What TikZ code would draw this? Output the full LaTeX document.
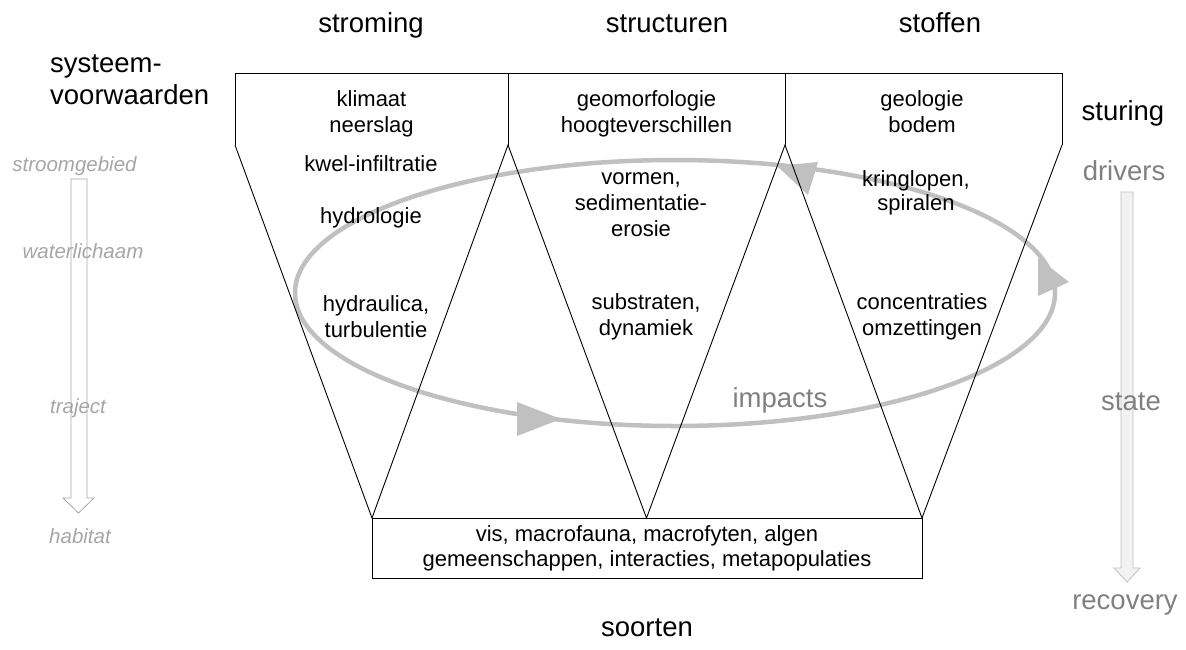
\documentclass[tikz,border=0pt]{standalone}
\usepackage{fontspec}
\setmainfont{Liberation Sans}
\definecolor{scalegrey}{HTML}{A6A6A6}
\definecolor{dpsirgrey}{HTML}{808080}
\definecolor{loopgrey}{HTML}{C0C0C0}
\definecolor{shaftfill}{HTML}{F2F2F2}
\definecolor{shaftline}{HTML}{BFBFBF}
\begin{document}
\begin{tikzpicture}[x=1pt,y=-1pt,
  heading/.style={font=\fontsize{27.5}{31.6}\selectfont, anchor=base, inner sep=0pt},
  item/.style={font=\fontsize{22}{26}\selectfont, anchor=base, inner sep=0pt},
  scalelabel/.style={font=\fontsize{20.5}{24}\selectfont\itshape, text=scalegrey, anchor=base, inner sep=0pt},
  dpsir/.style={font=\fontsize{27.5}{31.6}\selectfont, text=dpsirgrey, anchor=base, inner sep=0pt},
  frame/.style={draw=black, line width=0.9pt, line join=miter},
  loop/.style={draw=loopgrey, line width=4.5pt},
  loophead/.style={fill=loopgrey}
]
\useasboundingbox (0,0) rectangle (1186,649);

% impact loop with its arrowheads
\draw[loop] (675,293) ellipse [x radius=380, y radius=133];
\fill[loophead] (777,166) -- (818,162) -- (808,195) -- cycle;
\fill[loophead] (1038,258) -- (1038,296) -- (1069,282) -- cycle;
\fill[loophead] (517,402) -- (517,436) -- (561,419) -- cycle;

% scale arrows at both sides
\draw[scalegrey, line width=0.8pt] (71,179) -- (87,179) -- (87,498) -- (94,498)
  -- (78.5,513) -- (63,498) -- (71,498) -- cycle;
\draw[shaftline, fill=shaftfill, line width=0.8pt] (1121,192) -- (1133,192) -- (1133,568)
  -- (1140,568) -- (1127,582) -- (1114,568) -- (1121,568) -- cycle;

% funnel frame: three boxes narrowing into the species box
\coordinate (T1) at (235,73);
\coordinate (T2) at (508,73);
\coordinate (T3) at (785,73);
\coordinate (T4) at (1062,73);
\coordinate (S1) at (235,145);
\coordinate (S2) at (508,145);
\coordinate (S3) at (785,145);
\coordinate (S4) at (1062,145);
\coordinate (V1) at (372,518);
\coordinate (V2) at (646.5,518);
\coordinate (V3) at (922,518);
\coordinate (B3) at (922,578);
\draw[frame] (T1) -- (T4);
\draw[frame] (T1) -- (S1);
\draw[frame] (T2) -- (S2);
\draw[frame] (T3) -- (S3);
\draw[frame] (T4) -- (S4);
\draw[frame] (S1) -- (V1) -- (S2) -- (V2) -- (S3) -- (V3) -- (S4);
\draw[frame] (V1) rectangle (B3);

% column headings
\node[heading] (stroming) at (371,32) {stroming};
\node[heading] (structuren) at (667,32) {structuren};
\node[heading] (stoffen) at (940,32) {stoffen};
\node[heading, anchor=base west] (systeem) at (50,72) {systeem-};
\node[heading, anchor=base west] (voorwaarden) at (50,104) {voorwaarden};
\node[heading] (sturing) at (1123,120) {sturing};
\node[heading] (soorten) at (647,636) {soorten};

% stroming column
\node[item] (klimaat) at (371.5,106) {klimaat};
\node[item] (neerslag) at (371.5,132) {neerslag};
\node[item] (kwel) at (371,171) {kwel-infiltratie};
\node[item] (hydrologie) at (371,223) {hydrologie};
\node[item] (hydraulica) at (376,311) {hydraulica,};
\node[item] (turbulentie) at (376,337) {turbulentie};

% structuren column
\node[item] (geomorfologie) at (646.5,106) {geomorfologie};
\node[item] (hoogte) at (646.5,132) {hoogteverschillen};
\node[item] (vormen) at (641,184) {vormen,};
\node[item] (sedimentatie) at (641,210) {sedimentatie-};
\node[item] (erosie) at (641,236) {erosie};
\node[item] (substraten) at (646,309) {substraten,};
\node[item] (dynamiek) at (646,335) {dynamiek};

% stoffen column
\node[item] (geologie) at (922,106) {geologie};
\node[item] (bodem) at (922,132) {bodem};
\node[item] (kringlopen) at (916,186) {kringlopen,};
\node[item] (spiralen) at (916,210) {spiralen};
\node[item] (concentraties) at (922,309) {concentraties};
\node[item] (omzettingen) at (922,335) {omzettingen};

% species box
\node[item] (vis) at (647,541) {vis, macrofauna, macrofyten, algen};
\node[item] (gemeenschappen) at (647,566) {gemeenschappen, interacties, metapopulaties};

% loop label
\node[dpsir] (impacts) at (780,407) {impacts};

% spatial scale labels
\node[scalelabel] (stroomgebied) at (74.5,171) {stroomgebied};
\node[scalelabel] (waterlichaam) at (83,258) {waterlichaam};
\node[scalelabel] (traject) at (78,413) {traject};
\node[scalelabel] (habitat) at (80,543) {habitat};

% management chain labels
\node[dpsir] (drivers) at (1124,180) {drivers};
\node[dpsir] (state) at (1131,410) {state};
\node[dpsir] (recovery) at (1125,609) {recovery};
\end{tikzpicture}
\end{document}
